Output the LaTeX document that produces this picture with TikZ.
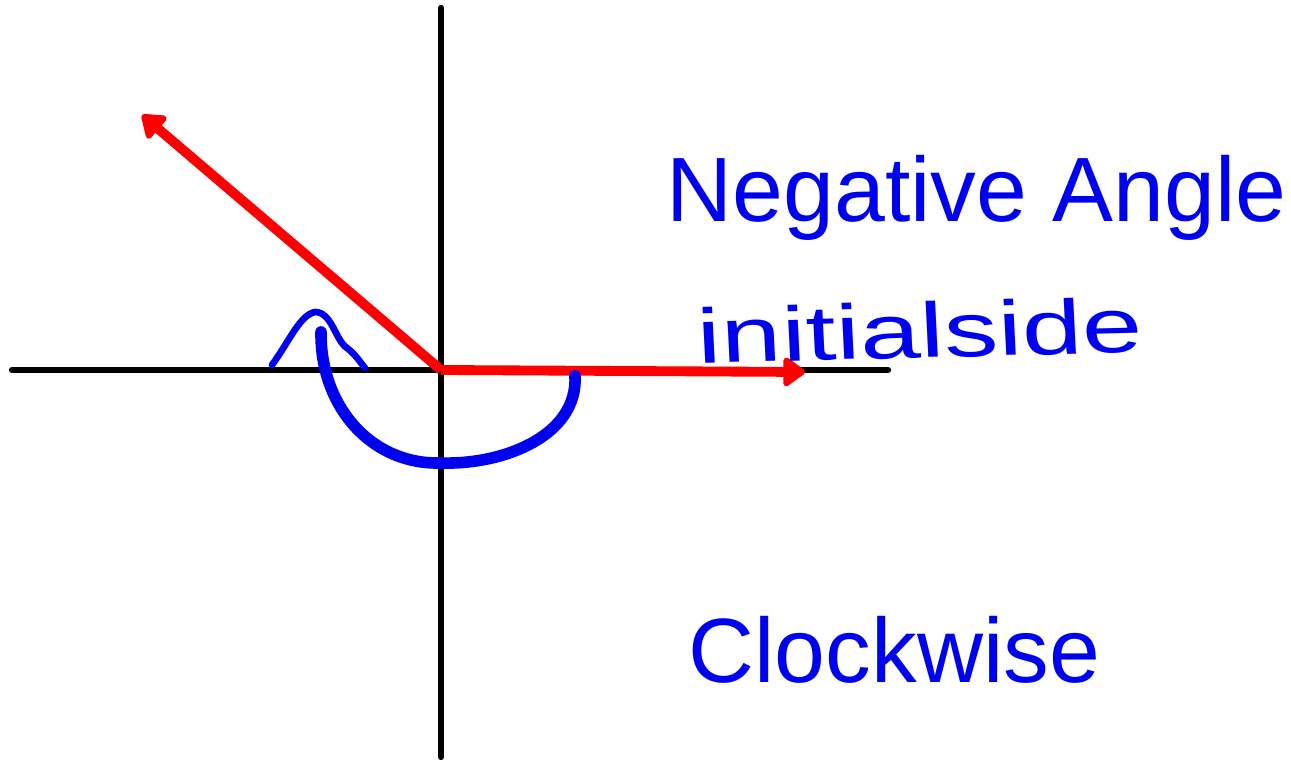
\documentclass[tikz,border=0pt]{standalone}
\usepackage{fontspec}
\setmainfont{Liberation Sans}
\usetikzlibrary{arrows.meta,positioning,calc}
\definecolor{Ink}{HTML}{000000}
\definecolor{Ray}{HTML}{FF0000}
\definecolor{Pen}{HTML}{0000F0}
\tikzset{
  axis/.style={draw=Ink,line width=1.8pt,line cap=round},
  ray/.style={-{Triangle[length=2.4mm,width=3.3mm,round]},draw=Ray,line width=2.8pt},
  sweep/.style={draw=Pen,line width=3.3pt,line cap=round},
  tip/.style={draw=Pen,line width=1.9pt,line cap=round,line join=round},
  title/.style={text=Pen,font=\fontsize{26}{31}\selectfont,inner sep=0pt,anchor=base west},
  hand/.style={text=Pen,font=\fontsize{22}{26}\selectfont,inner sep=0pt}
}
\begin{document}
\begin{tikzpicture}
  \useasboundingbox (0,0) rectangle (12.91,7.60);
  % axes
  \coordinate (O) at (4.41,3.90);
  \coordinate (xl) at (0.12,3.90);
  \coordinate (xr) at (8.88,3.90);
  \coordinate (yt) at (4.41,7.52);
  \coordinate (yb) at (4.41,0.03);
  \draw[axis] (xl) -- (xr);
  \draw[axis] (yt) -- (yb);
  % sides of the angle
  \coordinate (init) at (8.05,3.88);
  \coordinate (term) at (1.42,6.45);
  \draw[ray] (O) -- (init);
  \draw[ray] (O) -- (term);
  % clockwise sweep
  \coordinate (s0) at (5.75,3.84);
  \coordinate (s1) at (4.41,2.97);
  \coordinate (s2) at (3.21,4.28);
  \draw[sweep] (s0) .. controls (5.78,3.25) and (5.05,2.95) .. (s1)
    .. controls (3.70,2.95) and (3.20,3.55) .. (s2);
  \draw[tip] (2.72,3.95) .. controls (2.90,4.20) and (3.00,4.45) .. (3.15,4.48)
    .. controls (3.32,4.48) and (3.35,4.20) .. (3.47,4.12)
    .. controls (3.56,4.05) and (3.60,3.98) .. (3.65,3.92);
  % labels
  \node[title] (neg) at (6.66,5.38) {Negative Angle};
  \node[title] (cw) at (6.88,0.77) {Clockwise};
  \node[hand,xscale=1.4,rotate=2] (side) at (9.20,4.30) {initialside};
\end{tikzpicture}
\end{document}
